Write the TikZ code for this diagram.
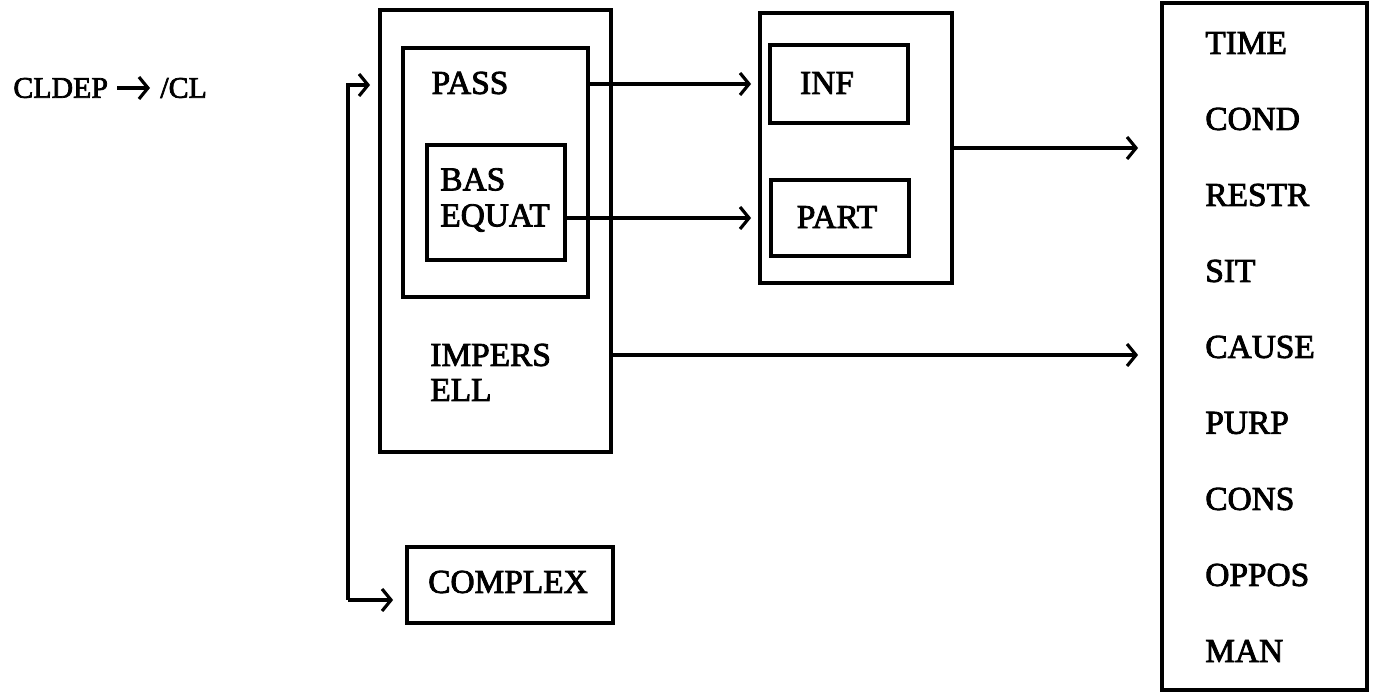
\documentclass[tikz,border=0pt]{standalone}
\usepackage{fontspec}
\setmainfont{Liberation Serif}[FakeBold=2.5]
\usepackage{tikz}
\usetikzlibrary{arrows.meta}

\begin{document}
\begin{tikzpicture}[
  x=0.02cm, y=-0.02cm, >={Straight Barb[length=1.8mm,width=4.4mm]},
  box/.style={draw, line width=2.2pt, inner sep=0pt},
  lbl/.style={inner sep=0pt, font=\fontsize{19}{20.5}\selectfont},
  small/.style={inner sep=0pt, font=\fontsize{17}{18}\selectfont},
  conn/.style={->, line width=1.8pt},
]
\useasboundingbox (0,0) rectangle (1384,695);
% left part
\node[small, anchor=west] (cldep) at (13,88) {CLDEP};
\node[small, anchor=west] (cl) at (160,88) {/CL};
\coordinate (forktop) at (348,85);
\coordinate (forkbot) at (348,600);
% nested boxes
\node[box, minimum width=4.62cm, minimum height=8.84cm] (outer) at (495.5,231) {};
\node[box, minimum width=3.7cm, minimum height=4.98cm] (pass) at (495.5,172.5) {};
\node[box, minimum width=2.76cm, minimum height=2.3cm] (bas) at (496,202.5) {};
\node[lbl] (passlbl) at (470,83) {PASS};
\node[lbl, anchor=west, align=left] (baslbl) at (440,200) {BAS\\EQUAT};
\node[lbl, anchor=west] (impers) at (430,355) {IMPERS};
\node[lbl, anchor=west] (ell) at (430,390) {ELL};
\node[box, minimum width=4.12cm, minimum height=1.52cm] (complex) at (510,585) {};
\node[lbl] (complexlbl) at (508,582) {COMPLEX};
% middle boxes
\node[box, minimum width=3.84cm, minimum height=5.4cm] (mid) at (856,148) {};
\node[box, minimum width=2.76cm, minimum height=1.56cm] (inf) at (839,84) {};
\node[box, minimum width=2.76cm, minimum height=1.52cm] (part) at (840,218) {};
\node[lbl] (inflbl) at (827,83) {INF};
\node[lbl] (partlbl) at (837,217) {PART};
% adverbial list
\node[box, minimum width=4.1cm, minimum height=13.74cm] (adv) at (1264.5,346.5) {};
\foreach \w [count=\i from 0] in {TIME,COND,RESTR,SIT,CAUSE,PURP,CONS,OPPOS,MAN}
  \node[lbl, anchor=west] (adv\i) at (1205,{43+76*\i}) {\w};

\draw[conn, shorten <=1.8mm, shorten >=2mm] (cldep) -- (cl);
\draw[conn, shorten >=1.6mm] (forkbot) -- (forktop) -- (outer.west |- forktop);
\draw[conn, shorten >=2.4mm] (forkbot) -- (complex.west |- forkbot);
\draw[conn, shorten >=1.4mm] (pass.east |- inf.west) -- (mid.west |- inf.west);
\draw[conn, shorten >=1.4mm] (bas.east |- part.west) -- (mid.west |- part.west);
\draw[conn, shorten >=4.4mm] (mid.east) -- (adv.west |- mid.east);
\draw[conn, shorten >=4.4mm] (outer.east |- impers) -- (adv.west |- impers);
\end{tikzpicture}
\end{document}
